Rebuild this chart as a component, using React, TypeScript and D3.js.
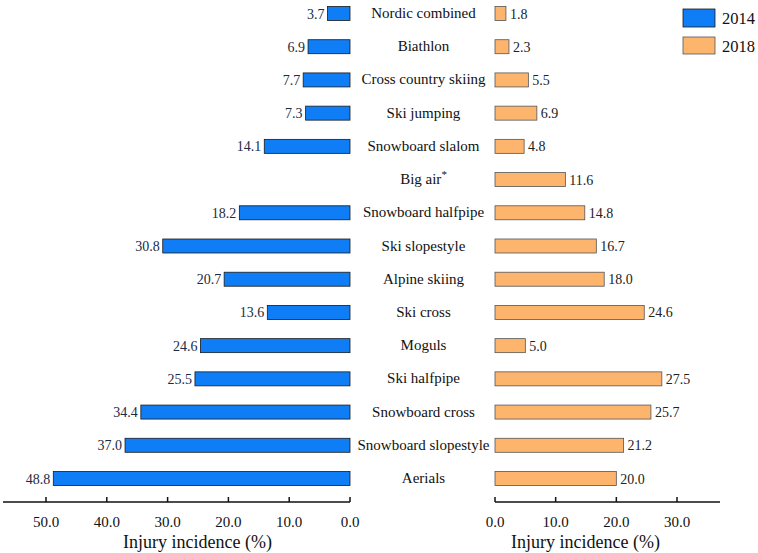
import React from "react";
import * as d3 from "d3";

// sports, top to bottom
const sports = [
  "Nordic combined",
  "Biathlon",
  "Cross country skiing",
  "Ski jumping",
  "Snowboard slalom",
  "Big air",
  "Snowboard halfpipe",
  "Ski slopestyle",
  "Alpine skiing",
  "Ski cross",
  "Moguls",
  "Ski halfpipe",
  "Snowboard cross",
  "Snowboard slopestyle",
  "Aerials",
];
// null = not held in 2014
const values2014 = [3.7, 6.9, 7.7, 7.3, 14.1, null, 18.2, 30.8, 20.7, 13.6, 24.6, 25.5, 34.4, 37.0, 48.8];
const values2018 = [1.8, 2.3, 5.5, 6.9, 4.8, 11.6, 14.8, 16.7, 18.0, 24.6, 5.0, 27.5, 25.7, 21.2, 20.0];
const leftTicks = [0, 10, 20, 30, 40, 50];
const rightTicks = [0, 10, 20, 30];

const W = 758;
const H = 553;
const FONT = "'Liberation Serif', 'Times New Roman', serif";
const BLUE = "#0F7DF5";
const ORANGE = "#FDB56E";

export default function App() {
  const y = d3.scalePoint<string>().domain(sports).range([13.5, 478.5]);
  const barH = 14;

  const xL = d3.scaleLinear().domain([0, 50]).range([350, 46]);
  const xR = d3.scaleLinear().domain([0, 30]).range([495, 677]);
  const axisY = 502;
  const labelX = 423.5;

  return (
    <svg width={W} height={H} style={{ position: "absolute", left: 0, top: 0 }} fontFamily={FONT}>
      <rect width={W} height={H} fill="#fff" />

      {/* 2014 bars */}
      {sports.map((s, i) => {
        const v = values2014[i];
        if (v == null) return null;
        const yy = y(s)! - barH / 2;
        return (
          <g key={"l" + s}>
            <rect x={xL(v)} y={yy} width={xL(0) - xL(v)} height={barH} fill={BLUE} stroke="#1a1a1a" strokeWidth={0.8} />
            <text x={xL(v) - 3} y={y(s)! + 5} textAnchor="end" fontSize={14} fill="#1c2a44">
              {v.toFixed(1)}
            </text>
          </g>
        );
      })}

      {/* 2018 bars */}
      {sports.map((s, i) => {
        const v = values2018[i];
        const yy = y(s)! - barH / 2;
        return (
          <g key={"r" + s}>
            <rect x={xR(0)} y={yy} width={xR(v) - xR(0)} height={barH} fill={ORANGE} stroke="#555" strokeWidth={0.8} />
            <text x={xR(v) + 4} y={y(s)! + 5} fontSize={14} fill="#222">
              {v.toFixed(1)}
            </text>
          </g>
        );
      })}

      {/* category labels */}
      {sports.map((s) => (
        <text key={"c" + s} x={labelX} y={y(s)! + 4.5} textAnchor="middle" fontSize={15} fill="#111">
          {s}
          {s === "Big air" ? (
            <tspan dy={-6} fontSize={11}>*</tspan>
          ) : null}
        </text>
      ))}

      {/* left axis */}
      <line x1={3} x2={xL(0)} y1={axisY} y2={axisY} stroke="#111" strokeWidth={1.5} />
      {leftTicks.map((t) => (
        <g key={"lt" + t}>
          <line x1={xL(t)} x2={xL(t)} y1={axisY - 5} y2={axisY} stroke="#111" strokeWidth={1.5} />
          <text x={xL(t)} y={527} textAnchor="middle" fontSize={15} fill="#111">
            {t.toFixed(1)}
          </text>
        </g>
      ))}
      <text x={197.5} y={548} textAnchor="middle" fontSize={18} fill="#111">
        Injury incidence (%)
      </text>

      {/* right axis */}
      <line x1={xR(0)} x2={720} y1={axisY} y2={axisY} stroke="#111" strokeWidth={1.5} />
      {rightTicks.map((t) => (
        <g key={"rt" + t}>
          <line x1={xR(t)} x2={xR(t)} y1={axisY - 5} y2={axisY} stroke="#111" strokeWidth={1.5} />
          <text x={xR(t)} y={527} textAnchor="middle" fontSize={15} fill="#111">
            {t.toFixed(1)}
          </text>
        </g>
      ))}
      <text x={585.5} y={548} textAnchor="middle" fontSize={18} fill="#111">
        Injury incidence (%)
      </text>

      {/* legend */}
      <rect x={683} y={9} width={32} height={18} fill={BLUE} stroke="#1a1a1a" strokeWidth={0.8} />
      <text x={722} y={24} fontSize={16.5} fill="#111">2014</text>
      <rect x={683} y={37} width={32} height={17} fill={ORANGE} stroke="#555" strokeWidth={0.8} />
      <text x={722} y={52} fontSize={16.5} fill="#111">2018</text>
    </svg>
  );
}
